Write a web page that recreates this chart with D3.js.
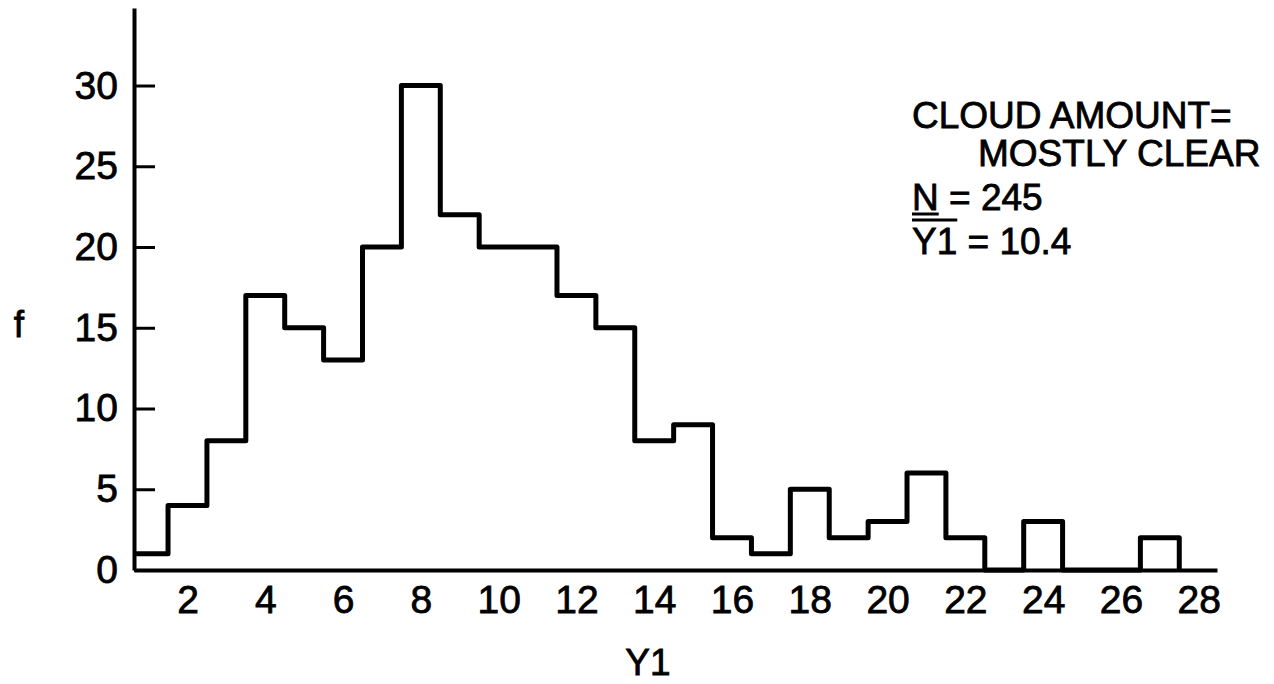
<!DOCTYPE html>
<html>
<head>
	<title>Cloud amount histogram</title>
	<style type="text/css">
		body {
			margin: 0;
			background: #fff;
		}

		svg text {
			font-family: "Liberation Sans", Arial, sans-serif;
			fill: #000;
			stroke: #000;
			stroke-width: 0.8px;
		}

		.axis text {
			font-size: 39px;
		}

		.axis path {
			stroke: #000;
			stroke-width: 4px;
		}

		.axis line {
			stroke: #000;
			stroke-width: 3px;
		}

		.note {
			font-size: 37px;
		}
	</style>
	<script src="https://d3js.org/d3.v7.min.js"></script>
</head>
<body>
<script type="text/javascript">
	// histogram bins (centre of each bin on Y1) and their frequencies
	var binCenters = [1, 2, 3, 4, 5, 6, 7, 8, 9, 10, 11, 12, 13, 14, 15, 16, 17, 18, 19, 20, 21, 22, 23, 24, 25, 26, 27];
	var counts = [1, 4, 8, 17, 15, 13, 20, 30, 22, 20, 20, 17, 15, 8, 9, 2, 1, 5, 2, 3, 6, 2, 0, 3, 0, 0, 2];

	var xTicks = [2, 4, 6, 8, 10, 12, 14, 16, 18, 20, 22, 24, 26, 28];
	var yTicks = [0, 5, 10, 15, 20, 25, 30];

	var noteLines = ["CLOUD AMOUNT=", "MOSTLY CLEAR"];
	var nLabel = "N", nValue = "245";
	var meanLabel = "Y1", meanValue = "10.4";

	var svg = d3.select("body").append("svg")
		.attr("width", 1274)
		.attr("height", 684);

	var x = d3.scaleLinear().domain([0.625, 28.47]).range([134, 1217]),
		y = d3.scaleLinear().domain([0, 34.8]).range([570, 8]);

	// x axis: no tick marks, just the line and labels
	svg.append("g")
		.attr("class", "axis")
		.attr("transform", "translate(0," + y(0) + ")")
		.call(d3.axisBottom(x).tickValues(xTicks).tickSize(0).tickPadding(15).tickFormat(d3.format("d")));

	// y axis with ticks pointing into the plot
	svg.append("g")
		.attr("class", "axis")
		.attr("transform", "translate(" + x(0.625) + ",0)")
		.call(d3.axisLeft(y).tickValues(yTicks).tickSizeInner(-21).tickSizeOuter(0).tickPadding(16));

	svg.selectAll(".axis text").attr("font-family", null);

	// step outline of the histogram
	var pts = [];
	binCenters.forEach(function(c, i) {
		pts.push([Math.max(c - 0.5, x.domain()[0]), counts[i]]);
		pts.push([c + 0.5, counts[i]]);
	});
	pts.push([binCenters[binCenters.length - 1] + 0.5, 0]);

	svg.append("path")
		.datum(pts)
		.attr("fill", "none")
		.attr("stroke", "#000")
		.attr("stroke-width", 5)
		.attr("stroke-linejoin", "round")
		.attr("d", d3.line().x(function(d) { return x(d[0]); }).y(function(d) { return y(d[1]); }));

	// axis titles
	svg.append("text")
		.attr("class", "note")
		.attr("x", 19)
		.attr("y", 337)
		.attr("text-anchor", "middle")
		.text("f");

	svg.append("text")
		.attr("class", "note")
		.attr("x", 648)
		.attr("y", 675)
		.attr("text-anchor", "middle")
		.text("Y1");

	// annotation block
	svg.append("text").attr("class", "note").attr("x", 912).attr("y", 128).text(noteLines[0]);
	svg.append("text").attr("class", "note").attr("x", 978).attr("y", 166).text(noteLines[1]);

	var nText = svg.append("text").attr("class", "note").attr("x", 912).attr("y", 210);
	nText.append("tspan").text(nLabel);
	nText.append("tspan").text(" = " + nValue);
	var nW = nText.node().getSubStringLength(0, nLabel.length);
	svg.append("line")
		.attr("x1", 912).attr("x2", 912 + nW)
		.attr("y1", 214).attr("y2", 214)
		.attr("stroke", "#000").attr("stroke-width", 3);

	var mText = svg.append("text").attr("class", "note").attr("x", 912).attr("y", 254);
	mText.append("tspan").text(meanLabel);
	mText.append("tspan").text(" = " + meanValue);
	var mW = mText.node().getSubStringLength(0, meanLabel.length);
	svg.append("line")
		.attr("x1", 912).attr("x2", 912 + mW)
		.attr("y1", 220).attr("y2", 220)
		.attr("stroke", "#000").attr("stroke-width", 3);
</script>
</body>
</html>
